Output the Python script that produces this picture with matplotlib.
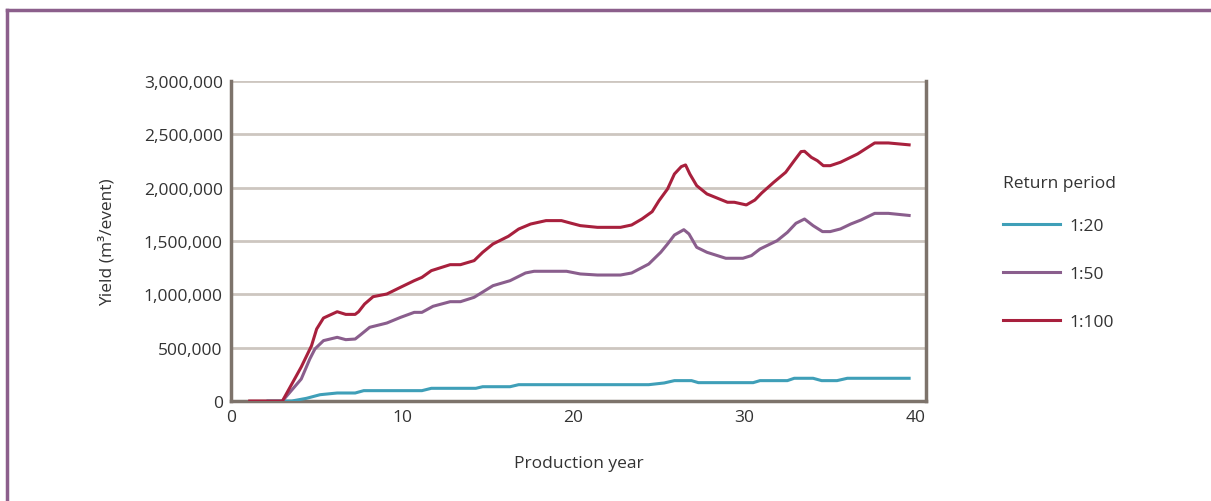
import matplotlib.pyplot as plt
from matplotlib.lines import Line2D
from matplotlib.ticker import FuncFormatter

# values (production year, yield in m3/event)
x_20 = [2.07, 3.55, 4.4, 5.2, 6.2, 7.25, 7.75, 11.15, 11.7, 14.3, 14.7, 16.3, 16.8,
        24.4, 25.3, 25.9, 26.9, 27.3, 30.5, 30.9, 32.5, 32.9, 34.0, 34.5, 35.4, 36.0, 39.7]
y_20 = [0, 0, 25000, 59000, 75000, 75000, 97000, 97000, 119000, 119000, 134000, 134000, 153000,
        153000, 169000, 191000, 191000, 172000, 172000, 191000, 191000, 213000, 213000, 191000,
        191000, 213000, 213000]

x_50 = [3.0, 4.1, 4.6, 4.9, 5.4, 6.2, 6.7, 7.25, 7.55, 8.1, 9.1, 9.9, 10.7, 11.15, 11.8,
        12.8, 13.4, 14.2, 15.3, 16.3, 17.2, 17.7, 19.6, 20.4, 21.4, 22.75, 23.4, 24.4,
        25.1, 25.5, 25.9, 26.45, 26.75, 27.2, 27.8, 28.9, 29.9, 30.4, 30.9, 31.9, 32.5,
        33.0, 33.5, 34.0, 34.55, 35.0, 35.6, 36.2, 36.8, 37.6, 38.4, 39.7]
y_50 = [0, 206000, 394000, 488000, 566000, 597000, 575000, 581000, 619000, 691000, 731000,
        784000, 831000, 831000, 888000, 931000, 931000, 972000, 1081000, 1128000, 1200000,
        1216000, 1216000, 1191000, 1181000, 1181000, 1200000, 1284000, 1394000, 1472000,
        1556000, 1606000, 1566000, 1441000, 1394000, 1338000, 1338000, 1363000, 1425000,
        1503000, 1581000, 1666000, 1706000, 1644000, 1588000, 1588000, 1613000, 1659000,
        1697000, 1759000, 1759000, 1738000]

x_100 = [1.0, 2.1, 3.0, 4.1, 4.7, 5.0, 5.4, 6.2, 6.7, 7.25, 7.45, 7.8, 8.3, 9.1, 9.9,
         10.7, 11.15, 11.7, 12.8, 13.4, 14.2, 14.7, 15.3, 16.2, 16.8, 17.5, 18.4, 19.3,
         19.9, 20.4, 21.4, 22.75, 23.4, 24.0, 24.6, 25.0, 25.5, 25.9, 26.3, 26.55, 26.8,
         27.2, 27.8, 29.0, 29.4, 30.1, 30.6, 31.0, 31.7, 32.4, 32.9, 33.3, 33.5, 33.9,
         34.25, 34.6, 35.0, 35.6, 36.6, 37.2, 37.6, 38.4, 39.7]
y_100 = [0, 0, 0, 319000, 518000, 675000, 778000, 837000, 812000, 812000, 837000, 909000,
         978000, 1003000, 1066000, 1128000, 1159000, 1222000, 1278000, 1278000, 1316000,
         1394000, 1472000, 1544000, 1612000, 1659000, 1691000, 1691000, 1665000, 1644000,
         1628000, 1628000, 1650000, 1706000, 1775000, 1878000, 1988000, 2128000, 2197000,
         2213000, 2128000, 2019000, 1941000, 1863000, 1863000, 1838000, 1884000, 1950000,
         2050000, 2144000, 2253000, 2338000, 2341000, 2284000, 2253000, 2206000, 2206000,
         2238000, 2316000, 2378000, 2419000, 2419000, 2400000]

labels = ["1:20", "1:50", "1:100"]
colors = ["#3f9fb8", "#8a5e8d", "#a8203d"]

plt.rcParams['font.family'] = ['Open Sans', 'DejaVu Sans']

fig = plt.figure(figsize=(12.11, 5.02), dpi=100)
ax = fig.add_axes([0.1908, 0.1992, 0.5739, 0.6375])

for xs, ys, c in zip([x_20, x_50, x_100], [y_20, y_50, y_100], colors):
    ax.plot(xs, ys, color=c, lw=2.2, solid_capstyle='butt', zorder=3)

ax.set_xlim(0, 40.6)
ax.set_ylim(0, 3000000)
ax.set_xticks([0, 10, 20, 30, 40])
ax.set_yticks(range(0, 3000001, 500000))
ax.yaxis.set_major_formatter(FuncFormatter(lambda v, p: f"{int(v):,}"))
ax.tick_params(length=0, labelsize=12.5, colors="#333333", pad=6)
ax.grid(axis='y', color="#cdc6c0", lw=2)
ax.set_axisbelow(True)

for s in ['left', 'bottom', 'right']:
    ax.spines[s].set_color("#7d736b")
    ax.spines[s].set_linewidth(2.5)
ax.spines['top'].set_visible(False)

ax.set_xlabel("Production year", fontsize=12.5, color="#333333", labelpad=21)
ax.set_ylabel("Yield (m³/event)", fontsize=12.5, color="#333333", labelpad=20)

handles = [Line2D([], [], color=c, lw=2.2) for c in colors]
leg = fig.legend(handles, labels, loc="center left",
                 bbox_to_anchor=(0.8155, 0.4522), frameon=False, fontsize=12.5,
                 handlelength=3.3, handletextpad=0.5, labelspacing=1.85)
for t in leg.get_texts():
    t.set_color("#333333")
fig.text(0.8283, 0.6325, "Return period", fontsize=12.5, color="#333333",
         ha='left', va='center')

# purple frame on top and left
fig.add_artist(Line2D([0.0055, 1.0], [0.979, 0.979], color="#8c5f8c", lw=2.5))
fig.add_artist(Line2D([0.0055, 0.0055], [0.0, 0.979], color="#8c5f8c", lw=2.5))

fig.savefig("out.png", dpi=100)
